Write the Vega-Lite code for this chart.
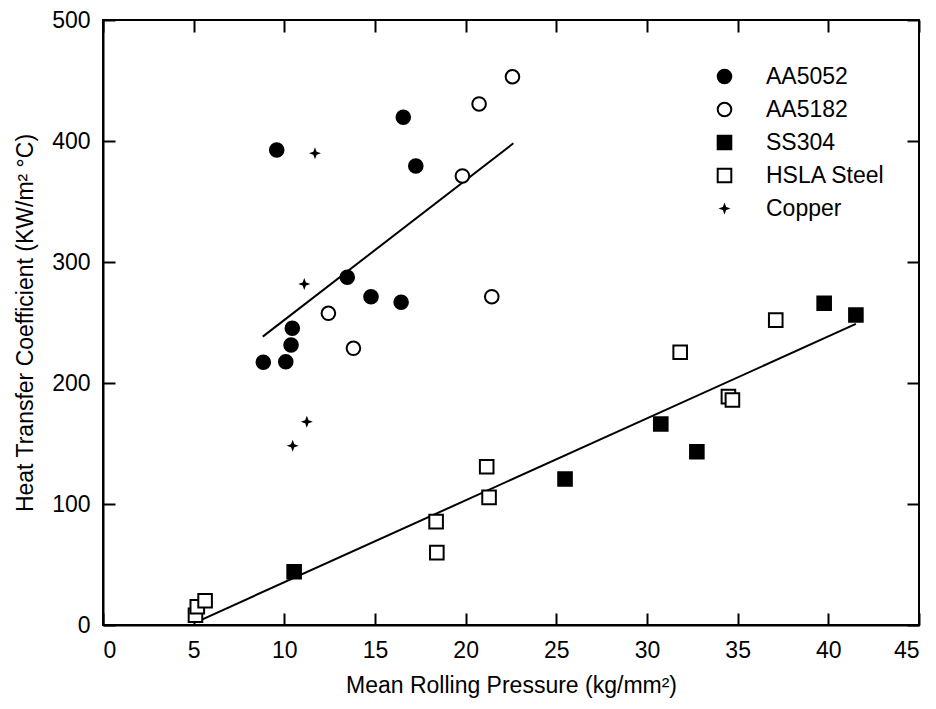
{
  "$schema": "https://vega.github.io/schema/vega-lite/v6.json",
  "width": 816,
  "height": 605,
  "autosize": {"type": "none"},
  "padding": {"left": 103, "top": 20, "right": 17, "bottom": 84},
  "background": "white",
  "config": {
    "view": {"stroke": "black", "strokeWidth": 2},
    "font": "Liberation Sans",
    "axis": {
      "labelFont": "Liberation Sans",
      "labelFontSize": 23,
      "titleFont": "Liberation Sans",
      "titleFontSize": 23,
      "titleFontWeight": "normal",
      "labelColor": "black",
      "titleColor": "black",
      "domainColor": "black",
      "tickColor": "black",
      "domainWidth": 2,
      "tickWidth": 2,
      "grid": false
    },
    "legend": {
      "labelFont": "Liberation Sans",
      "labelFontSize": 23,
      "labelColor": "black"
    }
  },
  "datasets": {
    "points": [
      {"series": "AA5052", "x": 9.58, "y": 392.6},
      {"series": "AA5052", "x": 16.56, "y": 419.6},
      {"series": "AA5052", "x": 17.25, "y": 379.3},
      {"series": "AA5052", "x": 13.47, "y": 287.4},
      {"series": "AA5052", "x": 14.78, "y": 271.3},
      {"series": "AA5052", "x": 16.44, "y": 266.7},
      {"series": "AA5052", "x": 10.44, "y": 245.2},
      {"series": "AA5052", "x": 10.37, "y": 231.4},
      {"series": "AA5052", "x": 8.84, "y": 217.1},
      {"series": "AA5052", "x": 10.08, "y": 217.6},
      {"series": "AA5182", "x": 20.74, "y": 430.6},
      {"series": "AA5182", "x": 22.58, "y": 453.1},
      {"series": "AA5182", "x": 19.82, "y": 371.1},
      {"series": "AA5182", "x": 21.44, "y": 271.3},
      {"series": "AA5182", "x": 12.43, "y": 257.6},
      {"series": "AA5182", "x": 13.81, "y": 228.7},
      {"series": "SS304", "x": 10.54, "y": 44.0},
      {"series": "SS304", "x": 25.48, "y": 120.7},
      {"series": "SS304", "x": 30.76, "y": 166.1},
      {"series": "SS304", "x": 32.75, "y": 143.2},
      {"series": "SS304", "x": 39.77, "y": 265.9},
      {"series": "SS304", "x": 41.52, "y": 256.2},
      {"series": "HSLA Steel", "x": 5.1, "y": 8.0},
      {"series": "HSLA Steel", "x": 5.2, "y": 15.1},
      {"series": "HSLA Steel", "x": 5.63, "y": 20.1},
      {"series": "HSLA Steel", "x": 18.37, "y": 85.4},
      {"series": "HSLA Steel", "x": 18.41, "y": 59.8},
      {"series": "HSLA Steel", "x": 21.16, "y": 130.8},
      {"series": "HSLA Steel", "x": 21.29, "y": 105.5},
      {"series": "HSLA Steel", "x": 31.83, "y": 225.4},
      {"series": "HSLA Steel", "x": 34.49, "y": 188.7},
      {"series": "HSLA Steel", "x": 34.71, "y": 186.0},
      {"series": "HSLA Steel", "x": 37.1, "y": 252.0},
      {"series": "Copper", "x": 11.69, "y": 389.8},
      {"series": "Copper", "x": 11.1, "y": 281.8},
      {"series": "Copper", "x": 11.24, "y": 168.0},
      {"series": "Copper", "x": 10.46, "y": 148.2}
    ],
    "fits": [
      {"fit": "aluminium", "x": 8.81, "y": 238.3},
      {"fit": "aluminium", "x": 22.63, "y": 398.1},
      {"fit": "steel", "x": 5.39, "y": 4.1},
      {"fit": "steel", "x": 41.52, "y": 248.8}
    ]
  },
  "layer": [
    {
      "data": {"name": "fits"},
      "mark": {"type": "line", "color": "black", "strokeWidth": 2},
      "encoding": {
        "x": {
          "field": "x", "type": "quantitative",
          "scale": {"domain": [0, 45], "nice": false, "zero": false},
          "axis": {"orient": "top", "labels": false, "title": null, "domain": false,
                   "values": [0, 5, 10, 15, 20, 25, 30, 35, 40, 45], "tickSize": -12}
        },
        "y": {
          "field": "y", "type": "quantitative",
          "scale": {"domain": [0, 500], "nice": false, "zero": false},
          "axis": {"orient": "right", "labels": false, "title": null, "domain": false,
                   "values": [0, 100, 200, 300, 400, 500], "tickSize": -12}
        },
        "detail": {"field": "fit"}
      }
    },
    {
      "data": {"name": "points"},
      "mark": {"type": "point", "filled": true, "stroke": "black", "strokeWidth": 2, "opacity": 1, "size": 185},
      "encoding": {
        "x": {
          "field": "x", "type": "quantitative",
          "scale": {"domain": [0, 45], "nice": false, "zero": false},
          "axis": {"orient": "bottom", "title": "Mean Rolling Pressure (kg/mm²)",
                   "values": [0, 5, 10, 15, 20, 25, 30, 35, 40, 45], "tickSize": -12,
                   "labelPadding": 26, "titlePadding": 12}
        },
        "y": {
          "field": "y", "type": "quantitative",
          "scale": {"domain": [0, 500], "nice": false, "zero": false},
          "axis": {"orient": "left", "title": "Heat Transfer Coefficient (KW/m² °C)",
                   "values": [0, 100, 200, 300, 400, 500], "tickSize": -12,
                   "labelPadding": 25, "titlePadding": 14}
        },
        "shape": {
          "field": "series", "type": "nominal",
          "scale": {"domain": ["AA5052", "AA5182", "SS304", "HSLA Steel", "Copper"],
                    "range": ["circle", "circle", "square", "square",
                              "M0,-0.45L0.12,-0.12L0.45,0L0.12,0.12L0,0.45L-0.12,0.12L-0.45,0L-0.12,-0.12Z"]},
          "legend": {"title": null, "orient": "none", "legendX": 610, "legendY": 45,
                     "padding": 0, "rowPadding": 9, "labelOffset": 30,
                     "symbolStrokeWidth": 2, "symbolSize": 185}
        },
        "fill": {
          "field": "series", "type": "nominal",
          "scale": {"domain": ["AA5052", "AA5182", "SS304", "HSLA Steel", "Copper"],
                    "range": ["black", "white", "black", "white", "black"]},
          "legend": {"title": null, "orient": "none", "legendX": 610, "legendY": 45,
                     "padding": 0, "rowPadding": 9, "labelOffset": 30,
                     "symbolStrokeWidth": 2, "symbolSize": 185}
        }
      }
    }
  ],
  "resolve": {"axis": {"x": "independent", "y": "independent"}}
}
